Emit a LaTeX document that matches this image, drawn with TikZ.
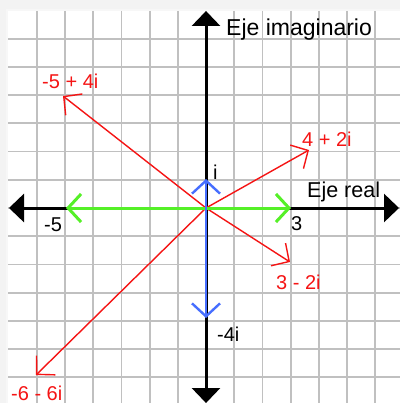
\documentclass[tikz,border=0pt]{standalone}
\usepackage{fontspec}
\setmainfont{Liberation Sans}
\usetikzlibrary{arrows.meta}
\definecolor{gridgray}{RGB}{192,192,192}
\definecolor{vred}{RGB}{245,20,20}
\definecolor{vgreen}{RGB}{85,240,40}
\definecolor{vblue}{RGB}{70,110,255}
\definecolor{shadowgray}{RGB}{243,243,243}
\begin{document}
\begin{tikzpicture}[x=1pt,y=-1pt,
  gridline/.style={draw=gridgray,line width=1.8pt},
  axisline/.style={draw=black,line width=3pt,
    arrows={Triangle[length=15pt,width=28pt]-Triangle[length=15pt,width=28pt]}},
  redvec/.style={draw=vred,line width=1.4pt,-{Straight Barb[length=13pt,width=27pt]}},
  greenvec/.style={draw=vgreen,line width=3pt,
    arrows={Straight Barb[length=13pt,width=28pt]-Straight Barb[length=13pt,width=28pt]}},
  bluevec/.style={draw=vblue,line width=2.4pt,
    arrows={Straight Barb[length=13pt,width=28pt]-Straight Barb[length=13pt,width=28pt]}},
  redlabel/.style={text=vred,font=\fontsize{20}{22}\selectfont,anchor=base west,inner sep=0pt},
  blacklabel/.style={text=black,font=\fontsize{20}{22}\selectfont,anchor=base west,inner sep=0pt},
  axislabel/.style={text=black,anchor=base west,inner sep=0pt}
]
\useasboundingbox (0,0) rectangle (400,403);
\fill[shadowgray] (0,0) rectangle (400,403);
\fill[white!97!black] (6,9) rectangle (400,403);
\fill[white] (8,11) rectangle (400,403);
\begin{scope}
  \clip (8,11) rectangle (400,403);
  \foreach \k in {-6,...,6} {
    \draw[gridline] ({206+28.2*\k},11) -- ({206+28.2*\k},403);
    \draw[gridline] (8,{208+28.2*\k}) -- (400,{208+28.2*\k});
  }
\end{scope}
% axes
\coordinate (L) at (9,208);
\coordinate (R) at (399,208);
\coordinate (T) at (206,11);
\coordinate (Bt) at (206,403);
\draw[axisline] (L) -- (R);
\draw[axisline] (T) -- (Bt);
% vectors
\coordinate (O) at (206,208);
\coordinate (A) at (63,96);
\coordinate (B) at (309,150);
\coordinate (C) at (290,262);
\coordinate (D) at (36,375);
\coordinate (G1) at (66,208);
\coordinate (G2) at (291,208);
\coordinate (U1) at (206,179);
\coordinate (U2) at (206,318);
\draw[redvec] (O) -- (A);
\draw[redvec] (O) -- (B);
\draw[redvec] (O) -- (C);
\draw[redvec] (O) -- (D);
\draw[greenvec] (G1) -- (G2);
\draw[bluevec] (U1) -- (U2);
% labels
\node[axislabel,font=\fontsize{23}{25}\selectfont] (ejeim) at (226,36) {Eje imaginario};
\node[axislabel,font=\fontsize{21.5}{23}\selectfont] (ejere) at (307,197) {Eje real};
\node[redlabel] (lA) at (42,89) {-5 + 4i};
\node[redlabel] (lB) at (302,147) {4 + 2i};
\node[redlabel] (lC) at (276,289) {3 - 2i};
\node[redlabel] (lD) at (11,400) {-6 - 6i};
\node[blacklabel] (lm5) at (44,231) {-5};
\node[blacklabel] (l3) at (291,230) {3};
\node[blacklabel] (lm4i) at (217,341) {-4i};
\node[blacklabel] (li) at (213,179) {i};
\end{tikzpicture}
\end{document}
